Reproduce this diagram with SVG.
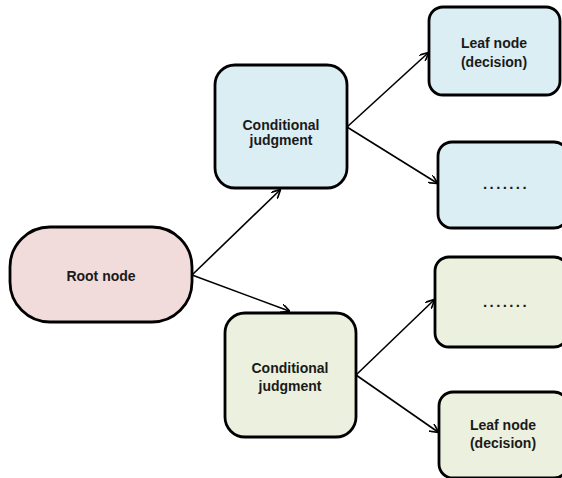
<svg xmlns="http://www.w3.org/2000/svg" width="562" height="478" viewBox="0 0 562 478">
<style>
.box{stroke:#000;stroke-width:2.8}
.root{fill:#F2DCDB}
.blue{fill:#DBEEF4}
.green{fill:#EBF1DE}
text{font-family:"Liberation Sans",Arial,sans-serif;font-weight:bold;font-size:14px;fill:#1a1a1a;text-anchor:middle}
.dots{letter-spacing:2.4px;font-size:15px}
.conn line{stroke:#000;stroke-width:1.6;marker-end:url(#arr)}
</style>
<defs>
<marker id="arr" viewBox="0 0 10 10" refX="9" refY="5" markerWidth="9" markerHeight="9" orient="auto" markerUnits="userSpaceOnUse">
<path d="M0,0 L10,5 L0,10" fill="none" stroke="#000" stroke-width="1.8"/>
</marker>
</defs>
<rect width="562" height="478" fill="#fff"/>
<g id="root">
<rect class="box root" x="10" y="227" width="182" height="95" rx="40" ry="40"/>
<text x="101" y="281">Root node</text>
</g>
<g id="cond-top">
<rect class="box blue" x="215" y="65" width="132" height="123" rx="20" ry="20"/>
<text x="281" y="130">Conditional</text>
<text x="281" y="145">judgment</text>
</g>
<g id="cond-bottom">
<rect class="box green" x="225" y="313" width="131" height="124" rx="20" ry="20"/>
<text x="290" y="373">Conditional</text>
<text x="290" y="391">judgment</text>
</g>
<g id="leaf-top">
<rect class="box blue" x="429" y="7" width="131" height="88" rx="14" ry="14"/>
<text x="494" y="48">Leaf node</text>
<text x="494" y="67">(decision)</text>
</g>
<g id="dots-top">
<rect class="box blue" x="438" y="142" width="130" height="86" rx="14" ry="14"/>
<text class="dots" x="506" y="189">.......</text>
</g>
<g id="dots-bottom">
<rect class="box green" x="435" y="257" width="133" height="90" rx="14" ry="14"/>
<text class="dots" x="506" y="307">.......</text>
</g>
<g id="leaf-bottom">
<rect class="box green" x="439" y="392" width="129" height="86" rx="14" ry="14"/>
<text x="503" y="430">Leaf node</text>
<text x="503" y="448">(decision)</text>
</g>
<g class="conn" id="connectors">
<line x1="192" y1="275" x2="280" y2="190"/>
<line x1="192" y1="275" x2="289" y2="311"/>
<line x1="347" y1="127" x2="428" y2="53"/>
<line x1="347" y1="127" x2="437" y2="183"/>
<line x1="356" y1="375" x2="434" y2="300"/>
<line x1="356" y1="375" x2="438" y2="432"/>
</g>
</svg>
